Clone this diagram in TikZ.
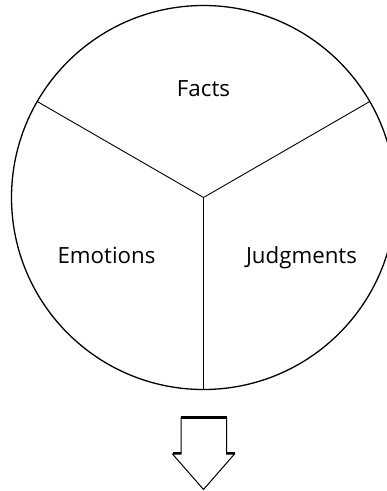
\documentclass[tikz,border=0pt]{standalone}
\usepackage{fontspec}
\setmainfont{Open Sans}
\usetikzlibrary{calc}
\begin{document}
\begin{tikzpicture}[x=1pt,y=1pt,
  lbl/.style={font=\fontsize{22.3}{26}\selectfont, inner sep=0pt, anchor=base},
  rim/.style={line width=1.3pt},
  spoke/.style={line width=0.9pt},
  arr/.style={line width=1pt, line join=miter},
  thick edge/.style={line width=2.6pt}]
\useasboundingbox (0,0) rectangle (387,-491);
\begin{scope}
\clip (0,0) rectangle (387,-491);
\coordinate (c) at (203.5,-197.5);
\draw[rim] (c) circle (192);
\coordinate (pl) at ($(c)+(150:192)$);
\coordinate (pr) at ($(c)+(30:192)$);
\coordinate (pb) at ($(c)+(270:192)$);
\draw[spoke] (pl) -- (c) -- (pr);
\draw[spoke] (c) -- (pb);
\end{scope}
\node[lbl] (facts) at (203.5,-96) {Facts};
\node[lbl] (emo) at (106.5,-263.3) {Emotions};
\node[lbl] (judg) at (301.5,-263.3) {Judgments};
% arrow
\coordinate (a1) at (181,-417.5);
\coordinate (a2) at (226.5,-417.5);
\coordinate (a3) at (226.5,-454);
\coordinate (a4) at (234.5,-454);
\coordinate (tip) at (203.5,-489.5);
\coordinate (a6) at (172.5,-454);
\coordinate (a7) at (181,-454);
\draw[arr] (a1) -- (a2) -- (a3) -- (a4) -- (tip) -- (a6) -- (a7) -- cycle;
\draw[thick edge] (a1) -- (a2);
\draw[thick edge, line width=2pt] ($(a6)+(0,1)$) -- ($(a7)+(0,1)$);
\draw[thick edge, line width=2pt] ($(a3)+(0,1)$) -- ($(a4)+(0,1)$);
\end{tikzpicture}
\end{document}
